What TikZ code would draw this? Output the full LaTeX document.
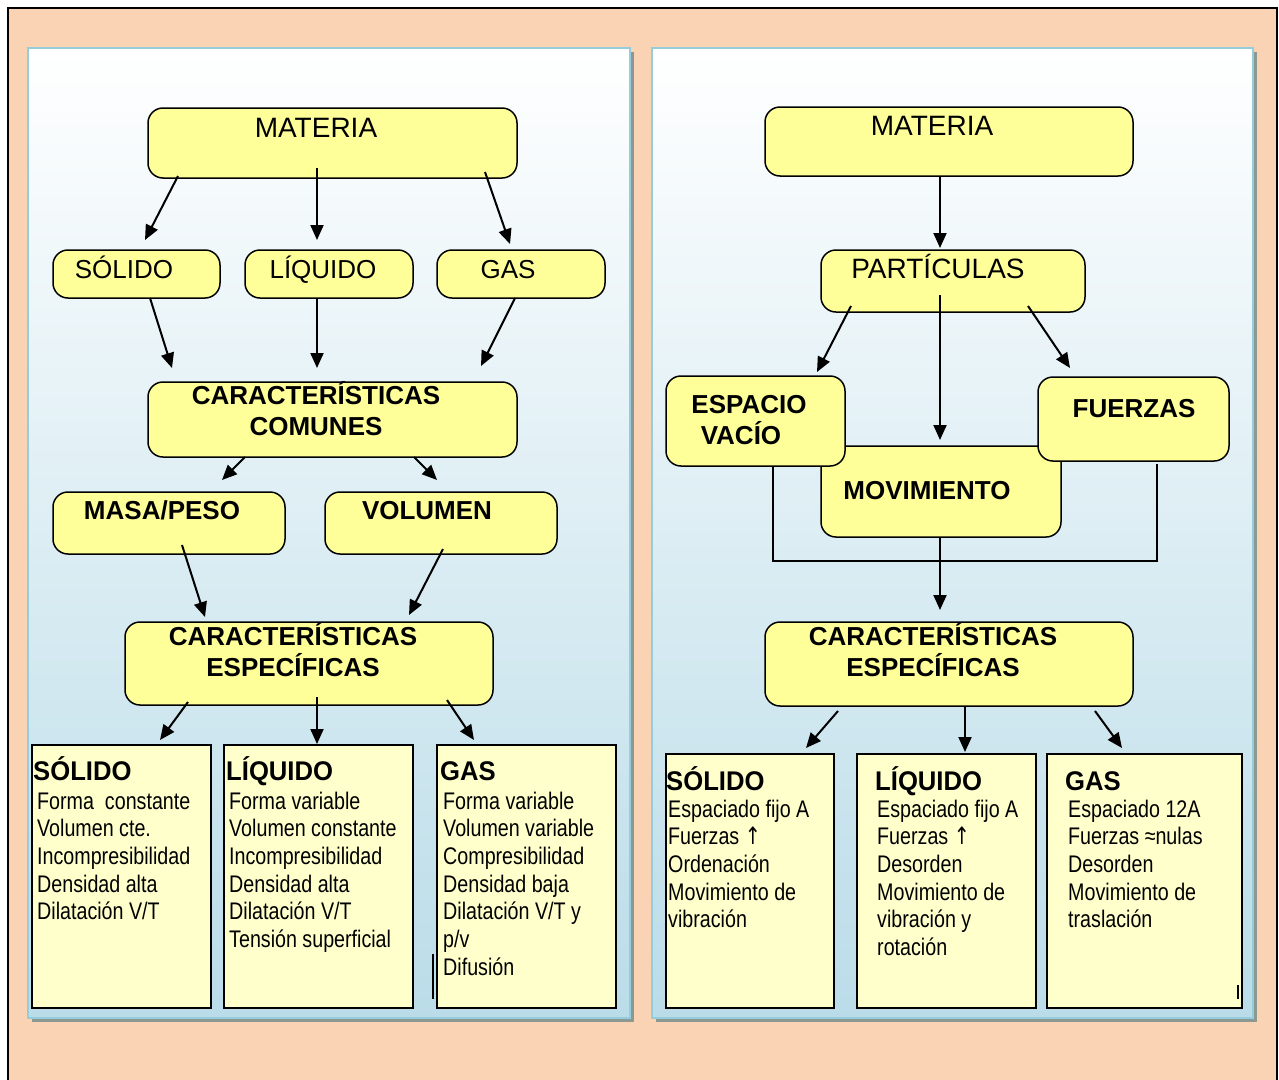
\documentclass[tikz,border=0pt]{standalone}
\usepackage{fontspec}
\setmainfont{Liberation Sans}
\newfontfamily\narrowfont[FakeStretch=0.82]{Liberation Sans}
\newfontfamily\headfont[FakeStretch=0.95]{Liberation Sans}
\newfontfamily\symfont[FakeStretch=0.8]{DejaVu Sans}
\usetikzlibrary{arrows.meta,calc}

\definecolor{peach}{RGB}{250,211,180}
\definecolor{panelblue}{RGB}{186,220,232}
\definecolor{paneledge}{RGB}{150,205,220}
\definecolor{shadowgray}{RGB}{140,152,146}
\definecolor{boxyellow}{RGB}{255,255,153}
\definecolor{paleyellow}{RGB}{255,255,204}

\newcommand\fsBig{\fontsize{28}{33}\selectfont}
\newcommand\fsMid{\fontsize{26}{31}\selectfont}
\newcommand\fsHead{\headfont\bfseries\fontsize{27}{32}\selectfont}
\newcommand\fsLine{\narrowfont\fontsize{24}{28}\selectfont}
\newcommand\uparr{{\symfont ↑}}

% list of lines inside a property box: name, x, first baseline, lines
\newcommand\proplines[4]{%
  \foreach \t [count=\i] in {#4}
    \node[linetxt] (#1-\i) at (#2,{#3+(\i-1)*27.7}) {\t};}

\begin{document}
\begin{tikzpicture}[x=1pt,y=-1pt,
  rbox/.style={draw=black, line width=1.5pt, fill=boxyellow, rounded corners=15pt,
               inner sep=0pt, outer sep=0pt, rectangle},
  pbox/.style={draw=black, line width=2pt, fill=paleyellow, inner sep=0pt,
               outer sep=0pt, rectangle},
  arr/.style={line width=2pt, -{Triangle[length=15pt,width=13pt]}},
  plain/.style={line width=1.5pt},
  lbl/.style={inner sep=0pt, anchor=base, font=\fsMid},
  biglbl/.style={inner sep=0pt, anchor=base, font=\fsBig},
  boldlbl/.style={inner sep=0pt, anchor=base, font=\fsMid\bfseries},
  headtxt/.style={inner sep=0pt, anchor=base west, font=\fsHead},
  linetxt/.style={inner sep=0pt, anchor=base west, font=\fsLine},
]
\useasboundingbox (0,0) rectangle (1279,1079);
\fill[white] (0,0) rectangle (1279,1079);

% outer frame
\draw[line width=2pt, fill=peach] (8,8) rectangle (1277,1092);

% panels with drop shadow and vertical gradient
\fill[shadowgray] (32,52) rectangle (634,1022);
\shade[top color=white, bottom color=panelblue] (28,48) rectangle (630,1018);
\draw[paneledge, line width=2pt] (28,48) rectangle (630,1018);

\fill[shadowgray] (656,52) rectangle (1257,1022);
\shade[top color=white, bottom color=panelblue] (652,48) rectangle (1253,1018);
\draw[paneledge, line width=2pt] (652,48) rectangle (1253,1018);

% ---------------- left panel ----------------
\node[rbox, minimum width=369pt, minimum height=70pt] (matL) at (332.5,143) {};
\node[rbox, minimum width=167pt, minimum height=48pt] (solL) at (136.5,274) {};
\node[rbox, minimum width=168pt, minimum height=48pt] (liqL) at (329,274) {};
\node[rbox, minimum width=168pt, minimum height=48pt] (gasL) at (521,274) {};
\node[rbox, minimum width=369pt, minimum height=75pt] (ccL) at (332.5,419.5) {};
\node[rbox, minimum width=232pt, minimum height=62pt] (masa) at (169,523) {};
\node[rbox, minimum width=232pt, minimum height=62pt] (vol) at (441,523) {};
\node[rbox, minimum width=368pt, minimum height=83pt] (ceL) at (309,663.5) {};
\node[pbox, minimum width=179pt, minimum height=263pt] (bsL) at (121.5,876.5) {};
\node[pbox, minimum width=189pt, minimum height=263pt] (blL) at (318.5,876.5) {};
\node[pbox, minimum width=179pt, minimum height=263pt] (bgL) at (526.5,876.5) {};

\node[biglbl] (t-matL) at (316,137) {MATERIA};
\node[lbl] (t-solL) at (124,278) {SÓLIDO};
\node[lbl] (t-liqL) at (323,278) {LÍQUIDO};
\node[lbl] (t-gasL) at (508,278) {GAS};
\node[boldlbl] (t-ccL1) at (316,404) {CARACTERÍSTICAS};
\node[boldlbl] (t-ccL2) at (316,435) {COMUNES};
\node[boldlbl] (t-masa) at (162,519) {MASA/PESO};
\node[boldlbl] (t-vol) at (427,519) {VOLUMEN};
\node[boldlbl] (t-ceL1) at (293,645) {CARACTERÍSTICAS};
\node[boldlbl] (t-ceL2) at (293,676) {ESPECÍFICAS};

\node[headtxt] (h-bsL) at (33,780) {SÓLIDO};
\node[headtxt] (h-blL) at (226,780) {LÍQUIDO};
\node[headtxt] (h-bgL) at (440,780) {GAS};
\proplines{p-bsL}{37}{809}{Forma~ constante,Volumen cte.,Incompresibilidad,Densidad alta,Dilatación V/T}
\proplines{p-blL}{229}{809}{Forma variable,Volumen constante,Incompresibilidad,Densidad alta,Dilatación V/T,Tensión superficial}
\proplines{p-bgL}{443}{809}{Forma variable,Volumen variable,Compresibilidad,Densidad baja,Dilatación V/T y,p/v,Difusión}

\draw[arr] ($(matL.south west)+(30,-2)$) -- ($(solL.north)+(8.5,-10)$);
\draw[arr] ($(matL.south)+(-15.5,-10)$) -- ($(liqL.north)+(-12,-10)$);
\draw[arr] ($(matL.south east)+(-32,-6)$) -- ($(gasL.north)+(-11,-6)$);
\draw[arr] ($(solL.south)+(13.5,0)$) -- ($(ccL.north west)+(24,-14)$);
\draw[arr] ($(liqL.south)+(-12,0)$) -- ($(ccL.north)+(-15.5,-14)$);
\draw[arr] ($(gasL.south)+(-6,0)$) -- ($(ccL.north east)+(-36,-16)$);
\draw[arr] ($(ccL.south)+(-87.5,0)$) -- ($(masa.north)+(53,-12)$);
\draw[arr] ($(ccL.south)+(81.5,0)$) -- ($(vol.north)+(-4,-12)$);
\draw[arr] ($(masa.south)+(13,-9)$) -- ($(ceL.north west)+(80,-5)$);
\draw[arr] ($(vol.south)+(2,-5)$) -- ($(ceL.north east)+(-84,-7)$);
\draw[arr] ($(ceL.south)+(-121,-3)$) -- ($(bsL.north)+(38.5,-5)$);
\draw[arr] ($(ceL.south)+(8,-8)$) -- ($(blL.north)+(-1.5,-1)$);
\draw[arr] ($(ceL.south)+(138,-5)$) -- ($(bgL.north)+(-52.5,-5)$);

% stray stroke beside the gas box
\draw[line width=1.5pt] (433,954) -- (433,999);

% ---------------- right panel ----------------
\node[rbox, minimum width=368pt, minimum height=69pt] (matR) at (949,141.5) {};
\node[rbox, minimum width=264pt, minimum height=62pt] (part) at (953,281) {};
\node[rbox, minimum width=240pt, minimum height=91pt] (mov) at (941,491.5) {};
\node[rbox, minimum width=179pt, minimum height=90pt] (esp) at (755.5,421) {};
\node[rbox, minimum width=191pt, minimum height=84pt] (fue) at (1133.5,419) {};
\node[rbox, minimum width=368pt, minimum height=84pt] (ceR) at (949,664) {};
\node[pbox, minimum width=168pt, minimum height=254pt] (bsR) at (750,881) {};
\node[pbox, minimum width=179pt, minimum height=254pt] (blR) at (946.5,881) {};
\node[pbox, minimum width=195pt, minimum height=254pt] (bgR) at (1144.5,881) {};

\node[biglbl] (t-matR) at (932,135) {MATERIA};
\node[biglbl] (t-part) at (938,278) {PARTÍCULAS};
\node[boldlbl] (t-esp1) at (749,413) {ESPACIO};
\node[boldlbl] (t-esp2) at (741,444) {VACÍO};
\node[boldlbl] (t-fue) at (1134,417) {FUERZAS};
\node[boldlbl] (t-mov) at (927,499) {MOVIMIENTO};
\node[boldlbl] (t-ceR1) at (933,645) {CARACTERÍSTICAS};
\node[boldlbl] (t-ceR2) at (933,676) {ESPECÍFICAS};

\node[headtxt] (h-bsR) at (666,790) {SÓLIDO};
\node[headtxt] (h-blR) at (875,790) {LÍQUIDO};
\node[headtxt] (h-bgR) at (1065,790) {GAS};
\proplines{p-bsR}{668}{817}{Espaciado fijo A,Fuerzas \uparr,Ordenación,Movimiento de,vibración}
\proplines{p-blR}{877}{817}{Espaciado fijo A,Fuerzas \uparr,Desorden,Movimiento de,vibración y,rotación}
\proplines{p-bgR}{1068}{817}{Espaciado 12A,Fuerzas ≈nulas,Desorden,Movimiento de,traslación}

\draw[arr] ($(matR.south)+(-9,0)$) -- ($(part.north)+(-13,-2)$);
\draw[arr] ($(part.south west)+(30,-6)$) -- ($(esp.north east)+(-28,-4)$);
\draw[arr] ($(part.south)+(-13,-17)$) -- ($(mov.north)+(-1,-6)$);
\draw[arr] ($(part.south east)+(-57,-6)$) -- ($(fue.north west)+(32,-9)$);
\draw[plain] ($(esp.south)+(17.5,0)$) |- ($(mov.south)+(0,24)$) -| ($(fue.south)+(23.5,3)$);
\draw[arr] ($(mov.south)+(-1,0)$) -- ($(ceR.north)+(-9,-12)$);
\draw[arr] ($(ceR.south west)+(73,5)$) -- ($(bsR.north)+(56,-6)$);
\draw[arr] ($(ceR.south)+(16,0)$) -- ($(blR.north)+(18.5,-2)$);
\draw[arr] ($(ceR.south east)+(-38,5)$) -- ($(bgR.north)+(-22.5,-6)$);

% stray stroke inside the gas box
\draw[line width=1.5pt] (1238,985) -- (1238,999);
\end{tikzpicture}
\end{document}
